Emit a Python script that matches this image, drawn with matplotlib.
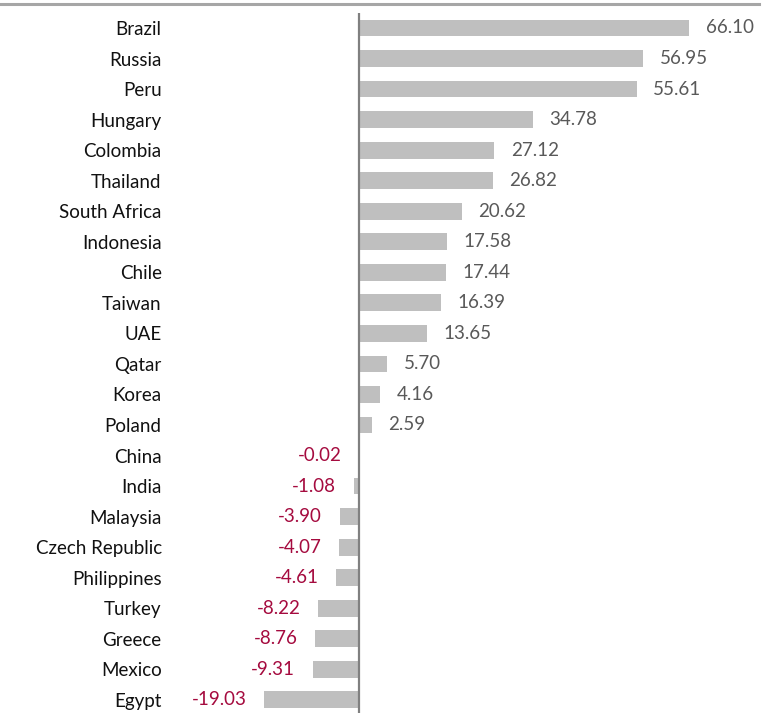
import matplotlib
matplotlib.use("Agg")
import matplotlib.pyplot as plt
from matplotlib.lines import Line2D

plt.rcParams["font.family"] = ["Lato", "DejaVu Sans"]

# data
countries = ["Brazil", "Russia", "Peru", "Hungary", "Colombia", "Thailand",
             "South Africa", "Indonesia", "Chile", "Taiwan", "UAE", "Qatar",
             "Korea", "Poland", "China", "India", "Malaysia", "Czech Republic",
             "Philippines", "Turkey", "Greece", "Mexico", "Egypt"]
values = [66.10, 56.95, 55.61, 34.78, 27.12, 26.82, 20.62, 17.58, 17.44,
          16.39, 13.65, 5.70, 4.16, 2.59, -0.02, -1.08, -3.90, -4.07, -4.61,
          -8.22, -8.76, -9.31, -19.03]

W, H = 764, 713
fig = plt.figure(figsize=(W / 100, H / 100), dpi=100)
ax = fig.add_axes([170 / W, 0, 1 - 170 / W, 700 / H])

pos = list(range(len(countries)))
ax.barh(pos, values, height=0.55, color="#BFBFBF", zorder=2)
ax.axvline(0, color="#808080", lw=1.6, zorder=3)

for y, v in zip(pos, values):
    if v >= 0:
        ax.annotate(f"{v:.2f}", (v, y), xytext=(12, 0), textcoords="offset points",
                    ha="left", va="center", fontsize=13.5, color="#595959")
    else:
        ax.annotate(f"{v:.2f}", (v, y), xytext=(-12.5, 0), textcoords="offset points",
                    ha="right", va="center", fontsize=13.5, color="#A50B3F")

ax.set_yticks(pos)
ax.set_yticklabels(countries, fontsize=13.5, color="#111111")
ax.tick_params(axis="y", length=0, pad=6)
ax.set_xticks([])
ax.set_xlim(-37.88, 81.16)
ax.set_ylim(22.43, -0.49)
for s in ax.spines.values():
    s.set_visible(False)

# grey rule across the top
fig.add_artist(Line2D([0, 0.994], [0.995, 0.995], color="#A6A6A6", lw=2.2,
                      transform=fig.transFigure))

fig.savefig("out.png", dpi=100)
